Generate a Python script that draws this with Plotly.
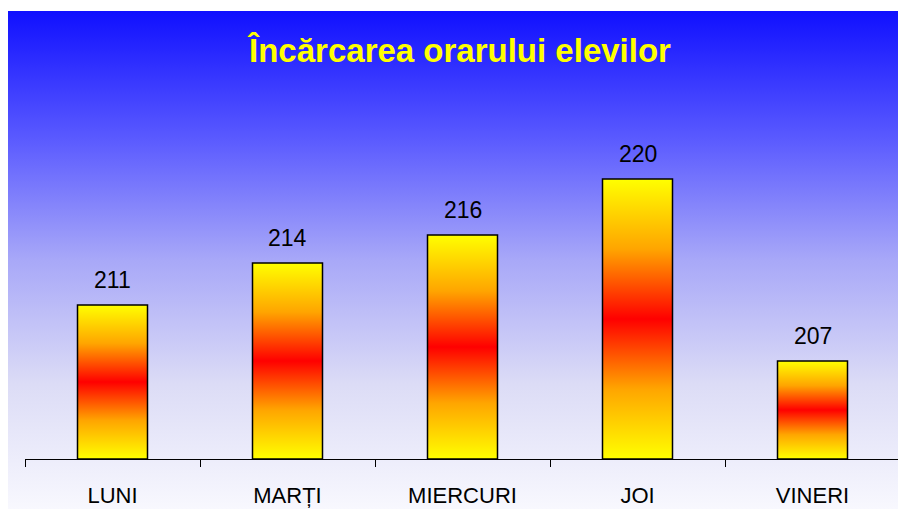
import plotly.graph_objects as go

# data
days = ["LUNI", "MARȚI", "MIERCURI", "JOI", "VINERI"]
hours = [211, 214, 216, 220, 207]
y_min, y_max = 200, 230
bar_half = 0.2

FONT = "Liberation Sans, Arial, sans-serif"
W, H = 906, 501  # page body keeps an 8px margin

bg_scale = [[0.0, "#F8F8FE"], [0.25, "#DCDCF6"], [0.5, "#A8A8F8"],
            [0.75, "#5858FF"], [1.0, "#1010FF"]]
bar_scale = [[0.0, "#FFFF00"], [0.25, "#FFA500"], [0.5, "#FF0000"],
             [0.75, "#FFA500"], [1.0, "#FFFF00"]]

fig = go.Figure()

# background gradient panel
fig.add_trace(go.Scatter(
    x=[0, 1, 1, 0, 0],
    y=[0, 0, 1 - 3 / H, 1 - 3 / H, 0],
    mode="lines", line=dict(width=0), fill="toself",
    fillgradient=dict(type="vertical", colorscale=bg_scale),
    hoverinfo="skip", showlegend=False, xaxis="x", yaxis="y"))

# bars with a yellow-red-yellow gradient
for i, (d, v) in enumerate(zip(days, hours)):
    fig.add_trace(go.Scatter(
        x=[i - bar_half, i - bar_half, i + bar_half, i + bar_half, i - bar_half],
        y=[y_min, v, v, y_min, y_min],
        mode="lines", line=dict(color="black", width=1.5), fill="toself",
        fillgradient=dict(type="vertical", colorscale=bar_scale),
        name=d, showlegend=False, xaxis="x2", yaxis="y2"))

for i, v in enumerate(hours):
    fig.add_annotation(x=i, y=v, xref="x2", yref="y2", text=str(v),
                       showarrow=False, yanchor="bottom", yshift=10,
                       font=dict(family=FONT, size=23, color="black"))

fig.update_layout(
    width=W, height=H,
    margin=dict(l=0, r=0, t=0, b=0),
    paper_bgcolor="white", plot_bgcolor="rgba(0,0,0,0)",
    title=dict(text="<b>Încărcarea orarului elevilor</b>",
               x=452 / W, xanchor="center", y=1 - 42 / H, yanchor="middle",
               font=dict(family=FONT, size=33, color="#FFFF00")),
    xaxis=dict(domain=[0, 1], range=[0, 1], visible=False, fixedrange=True),
    yaxis=dict(domain=[0, 1], range=[0, 1], visible=False, fixedrange=True),
    xaxis2=dict(domain=[17 / W, 892 / W], range=[-0.5, 4.5], anchor="y2",
                tickvals=list(range(len(days))), ticktext=days, ticks="",
                showgrid=False, zeroline=False, showline=True,
                linecolor="black", linewidth=1, ticklabelstandoff=17,
                minor=dict(tickvals=[i - 0.5 for i in range(len(days) + 1)],
                           ticks="outside", ticklen=7, tickcolor="black",
                           showgrid=False),
                tickfont=dict(family=FONT, size=22, color="black")),
    yaxis2=dict(domain=[(H - 451) / H, (H - 31) / H], range=[y_min, y_max],
                anchor="x2", visible=False, showgrid=False),
)

fig.write_html("out.html")
